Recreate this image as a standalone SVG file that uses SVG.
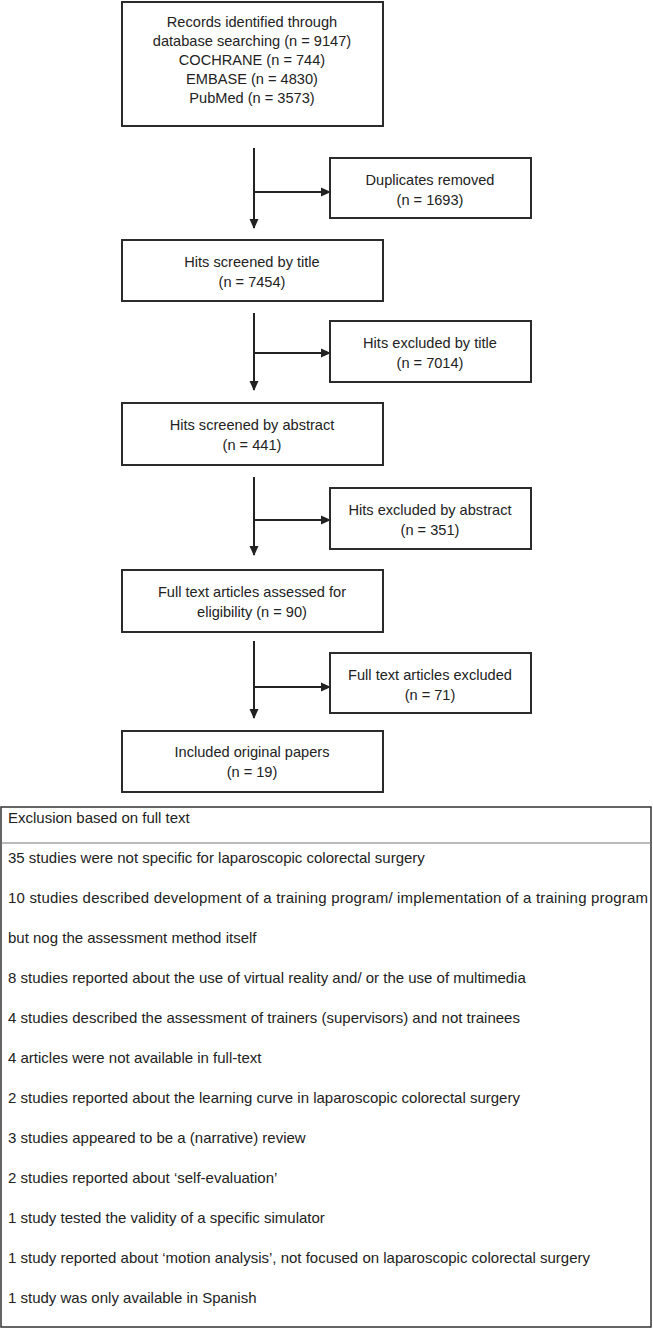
<svg xmlns="http://www.w3.org/2000/svg" width="653" height="1328" viewBox="0 0 653 1328">
<style>
.box{fill:#fff;stroke:#2b2b2b;stroke-width:2}
.t{font-family:"Liberation Sans",Arial,sans-serif;font-size:14.6px;fill:#222;text-anchor:middle}
.tl{font-family:"Liberation Sans",Arial,sans-serif;font-size:15px;fill:#222}
.c{stroke:#222;stroke-width:2;fill:none}
</style>
<defs>
<marker id="ah" markerWidth="10" markerHeight="10" refX="9" refY="5" orient="auto" markerUnits="userSpaceOnUse">
<path d="M0,0.5 L10,5 L0,9.5 Z" fill="#222"/>
</marker>
</defs>
<rect width="653" height="1328" fill="#fff"/>
<g id="connectors">
<line class="c" x1="254" y1="148" x2="254" y2="228" marker-end="url(#ah)"/>
<line class="c" x1="254" y1="192" x2="330" y2="192" marker-end="url(#ah)"/>
<line class="c" x1="254" y1="313" x2="254" y2="390" marker-end="url(#ah)"/>
<line class="c" x1="254" y1="353" x2="330" y2="353" marker-end="url(#ah)"/>
<line class="c" x1="254" y1="477" x2="254" y2="555" marker-end="url(#ah)"/>
<line class="c" x1="254" y1="520" x2="330" y2="520" marker-end="url(#ah)"/>
<line class="c" x1="254" y1="641" x2="254" y2="718" marker-end="url(#ah)"/>
<line class="c" x1="254" y1="687" x2="330" y2="687" marker-end="url(#ah)"/>
</g>
<g id="records">
<rect class="box" x="122" y="2" width="261" height="124"/>
<text class="t" x="252" y="27">Records identified through</text>
<text class="t" x="252" y="46">database searching (n = 9147)</text>
<text class="t" x="252" y="65">COCHRANE (n = 744)</text>
<text class="t" x="252" y="84">EMBASE (n = 4830)</text>
<text class="t" x="252" y="103">PubMed (n = 3573)</text>
</g>
<g id="duplicates">
<rect class="box" x="330" y="158" width="201" height="60"/>
<text class="t" x="430" y="185">Duplicates removed</text>
<text class="t" x="430" y="205">(n = 1693)</text>
</g>
<g id="title">
<rect class="box" x="122" y="240" width="261" height="61"/>
<text class="t" x="252" y="267">Hits screened by title</text>
<text class="t" x="252" y="287">(n = 7454)</text>
</g>
<g id="excl-title">
<rect class="box" x="330" y="321" width="201" height="61"/>
<text class="t" x="430" y="348">Hits excluded by title</text>
<text class="t" x="430" y="368">(n = 7014)</text>
</g>
<g id="abstract">
<rect class="box" x="122" y="403" width="261" height="62"/>
<text class="t" x="252" y="430">Hits screened by abstract</text>
<text class="t" x="252" y="450">(n = 441)</text>
</g>
<g id="excl-abstract">
<rect class="box" x="330" y="488" width="201" height="61"/>
<text class="t" x="430" y="515">Hits excluded by abstract</text>
<text class="t" x="430" y="535">(n = 351)</text>
</g>
<g id="fulltext">
<rect class="box" x="122" y="570" width="261" height="62"/>
<text class="t" x="252" y="597">Full text articles assessed for</text>
<text class="t" x="252" y="617">eligibility (n = 90)</text>
</g>
<g id="excl-fulltext">
<rect class="box" x="330" y="653" width="201" height="60"/>
<text class="t" x="430" y="680">Full text articles excluded</text>
<text class="t" x="430" y="700">(n = 71)</text>
</g>
<g id="included">
<rect class="box" x="122" y="731" width="261" height="61"/>
<text class="t" x="252" y="757">Included original papers</text>
<text class="t" x="252" y="777">(n = 19)</text>
</g>
<g id="exclusion-table">
<rect x="1" y="807" width="650" height="520" fill="#fff" stroke="#333" stroke-width="1.5"/>
<line x1="1" y1="843" x2="651" y2="843" stroke="#777" stroke-width="1"/>
<text class="tl" x="8" y="823">Exclusion based on full text</text>
<text class="tl" x="8" y="863">35 studies were not specific for laparoscopic colorectal surgery</text>
<text class="tl" x="8" y="903" textLength="640" lengthAdjust="spacing">10 studies described development of a training program/ implementation of a training program</text>
<text class="tl" x="8" y="943">but nog the assessment method itself</text>
<text class="tl" x="8" y="983">8 studies reported about the use of virtual reality and/ or the use of multimedia</text>
<text class="tl" x="8" y="1023">4 studies described the assessment of trainers (supervisors) and not trainees</text>
<text class="tl" x="8" y="1063">4 articles were not available in full-text</text>
<text class="tl" x="8" y="1103">2 studies reported about the learning curve in laparoscopic colorectal surgery</text>
<text class="tl" x="8" y="1143">3 studies appeared to be a (narrative) review</text>
<text class="tl" x="8" y="1183">2 studies reported about ‘self-evaluation’</text>
<text class="tl" x="8" y="1223">1 study tested the validity of a specific simulator</text>
<text class="tl" x="8" y="1263">1 study reported about ‘motion analysis’, not focused on laparoscopic colorectal surgery</text>
<text class="tl" x="8" y="1303">1 study was only available in Spanish</text>
</g>
</svg>
